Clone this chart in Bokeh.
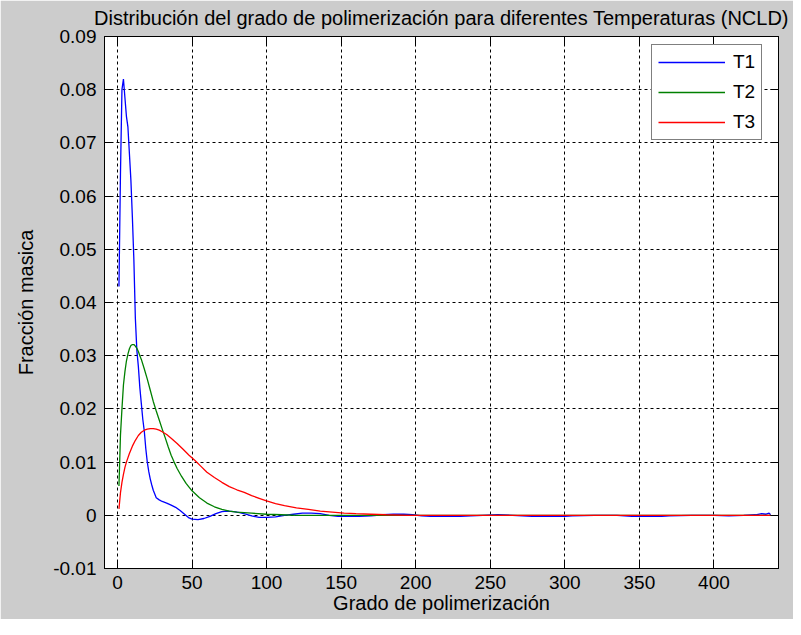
from bokeh.plotting import figure
from bokeh.models import (FixedTicker, LinearAxis, Range1d, Legend, LegendItem,
                          NumeralTickFormatter, CustomJSTickFormatter)
from bokeh.embed import file_html
from bokeh.resources import INLINE

TITLE = "Distribución del grado de polimerización para diferentes Temperaturas (NCLD)"
XLABEL = "Grado de polimerización"
YLABEL = "Fracción masica"
series_names = ["T1", "T2", "T3"]

x_lo, x_hi = -8.7, 443.3
y_lo, y_hi = -0.01, 0.09
x_ticks = [0, 50, 100, 150, 200, 250, 300, 350, 400]
y_ticks = [-0.01, 0.0, 0.01, 0.02, 0.03, 0.04, 0.05, 0.06, 0.07, 0.08, 0.09]

t1_x = [1, 2, 3, 4, 5, 6, 7, 8, 9, 10, 11, 12, 13, 14, 15, 16, 17, 18, 19, 20,
        21, 22, 23, 24, 26, 28, 30, 33, 36, 39, 42, 45, 48, 50, 54, 58, 62, 66,
        70, 74, 78, 82, 86, 90, 95, 100, 106, 112, 118, 124, 130, 136, 142, 148,
        155, 162, 170, 178, 185, 192, 198, 204, 210, 220, 230, 237, 245, 255, 265,
        278, 290, 300, 305, 320, 335, 345, 355, 365, 370, 385, 400, 410, 420, 428,
        432, 435, 437, 438]
t1_y = [0.043, 0.064, 0.080, 0.082, 0.0785, 0.075, 0.073, 0.068, 0.063, 0.056,
        0.048, 0.037, 0.031, 0.028, 0.024, 0.021, 0.018, 0.0158, 0.0125, 0.0100,
        0.0082, 0.0068, 0.0057, 0.0047, 0.0033, 0.0029, 0.0026, 0.0023, 0.0019,
        0.0015, 0.0009, 0.0002, -0.0005, -0.0007, -0.0008, -0.0006, -0.0002,
        0.0003, 0.0007, 0.0008, 0.0007, 0.0005, 0.0002, -0.0001, -0.0004, -0.0004,
        -0.0003, 0.0000, 0.0002, 0.0004, 0.0004, 0.0003, 0.0000, -0.0002, -0.0002,
        -0.0002, -0.0001, 0.0001, 0.0002, 0.0002, 0.0001, -0.0001, -0.0002, -0.0002,
        -0.0002, -0.0001, 0.0000, 0.0001, 0.0000, -0.0002, -0.0002, -0.0002,
        -0.0001, 0.0000, 0.0000, -0.0002, -0.0002, -0.0002, -0.0001, 0.0000,
        0.0000, -0.0001, 0.0000, 0.0001, 0.0003, 0.0002, 0.0004, 0.0001]

t2_x = [1, 2, 3, 4, 5, 6, 7, 8, 9, 10, 11, 12, 13, 14, 15, 16, 18, 20, 22, 24,
        26, 28, 30, 32, 34, 36, 38, 40, 43, 46, 50, 55, 60, 65, 70, 75, 80, 90,
        100, 110, 120, 150, 200, 300, 400, 438]
t2_y = [0.0055, 0.0150, 0.0200, 0.0245, 0.0270, 0.0290, 0.0303, 0.0313, 0.0319,
        0.0321, 0.0321, 0.0318, 0.0314, 0.0308, 0.0300, 0.0293, 0.0275, 0.0256,
        0.0235, 0.0214, 0.0196, 0.0179, 0.0162, 0.0146, 0.0129, 0.0113, 0.0100,
        0.0088, 0.0073, 0.0060, 0.0046, 0.0033, 0.0023, 0.0016, 0.0011, 0.0008,
        0.0006, 0.0004, 0.0002, 0.0001, 0.0000, 0.0000, 0.0000, 0.0000, 0.0000,
        0.0000]

t3_x = [1, 2, 3, 4, 5, 6, 8, 10, 12, 14, 16, 18, 20, 22, 24, 26, 28, 30, 33, 36,
        40, 44, 48, 52, 56, 60, 65, 70, 75, 80, 85, 90, 95, 100, 106, 112, 120,
        128, 136, 144, 152, 160, 170, 180, 195, 250, 300, 350, 400, 438]
t3_y = [0.0012, 0.0042, 0.0062, 0.0077, 0.0090, 0.0100, 0.0116, 0.0130, 0.0141,
        0.0150, 0.0156, 0.0160, 0.0162, 0.0163, 0.0163, 0.0162, 0.0160, 0.0157,
        0.0152, 0.0145, 0.0135, 0.0124, 0.0113, 0.0103, 0.0092, 0.0081, 0.0071,
        0.0062, 0.0054, 0.0048, 0.0043, 0.0037, 0.0032, 0.0027, 0.0022, 0.0018,
        0.0014, 0.0011, 0.0008, 0.0006, 0.0004, 0.0003, 0.0002, 0.0001, 0.0000,
        0.0000, 0.0000, 0.0000, 0.0000, 0.0000]

colors = ["#0000ff", "#008000", "#ff0000"]
FONT = "Liberation Sans"
TICK_FS = "19px"
LABEL_FS = "20px"
TITLE_FS = "20px"

p = figure(frame_width=674, frame_height=532,
           x_range=Range1d(x_lo, x_hi), y_range=Range1d(y_lo, y_hi),
           output_backend="svg", toolbar_location=None,
           min_border_left=104, min_border_right=15,
           min_border_top=36, min_border_bottom=51,
           background_fill_color="white", border_fill_color="#cccccc",
           outline_line_color="black", outline_line_width=1)

p.title.text = TITLE
p.title.align = "center"
p.title.vertical_align = "top"
p.title.text_font = FONT
p.title.text_font_size = TITLE_FS
p.title.text_font_style = "normal"
p.title.text_color = "black"
p.title.standoff = 11

xt = FixedTicker(ticks=x_ticks)
yt = FixedTicker(ticks=y_ticks)

for ax, tk in ((p.xaxis[0], xt), (p.yaxis[0], yt)):
    ax.ticker = tk
    ax.major_tick_in = 8
    ax.major_tick_out = 0
    ax.minor_tick_in = 0
    ax.minor_tick_out = 0
    ax.axis_line_color = "black"
    ax.major_tick_line_color = "black"
    ax.major_label_text_font = FONT
    ax.major_label_text_font_size = TICK_FS
    ax.major_label_text_color = "black"
    ax.axis_label_text_font = FONT
    ax.axis_label_text_font_size = LABEL_FS
    ax.axis_label_text_font_style = "normal"
    ax.axis_label_text_color = "black"

p.xaxis[0].axis_label = XLABEL
p.xaxis[0].major_label_standoff = 7
p.xaxis[0].axis_label_standoff = 0
p.yaxis[0].axis_label = YLABEL
p.yaxis[0].major_label_standoff = 8
p.yaxis[0].axis_label_standoff = 13
p.yaxis[0].formatter = NumeralTickFormatter(format="0.[00]")

blank = CustomJSTickFormatter(code="return '';")
for loc, tk in (("above", xt), ("right", yt)):
    ax = LinearAxis(ticker=tk, formatter=blank)
    ax.major_tick_in = 8
    ax.major_tick_out = 0
    ax.minor_tick_in = 0
    ax.minor_tick_out = 0
    ax.major_label_standoff = 0
    ax.axis_line_color = "black"
    ax.major_tick_line_color = "black"
    p.add_layout(ax, loc)

for g in (p.xgrid[0], p.ygrid[0]):
    g.grid_line_color = "black"
    g.grid_line_dash = "3 3"
    g.grid_line_width = 1
    g.grid_line_alpha = 1
p.xgrid[0].ticker = xt
p.ygrid[0].ticker = yt

r1 = p.line(t1_x, t1_y, line_color=colors[0], line_width=1.3)
r2 = p.line(t2_x, t2_y, line_color=colors[1], line_width=1.3)
r3 = p.line(t3_x, t3_y, line_color=colors[2], line_width=1.3)

legend = Legend(items=[LegendItem(label=series_names[0], renderers=[r1]),
                       LegendItem(label=series_names[1], renderers=[r2]),
                       LegendItem(label=series_names[2], renderers=[r3])],
                location=(547, 428))
legend.margin = 0
legend.padding = 6
legend.spacing = 8
legend.glyph_width = 67
legend.glyph_height = 22
legend.label_height = 22
legend.label_standoff = 8
legend.label_text_font = FONT
legend.label_text_font_size = TICK_FS
legend.label_text_color = "black"
legend.border_line_color = "black"
legend.border_line_width = 1
legend.background_fill_color = "white"
legend.background_fill_alpha = 1
p.add_layout(legend)

open("out.html", "w").write(file_html(p, INLINE))
